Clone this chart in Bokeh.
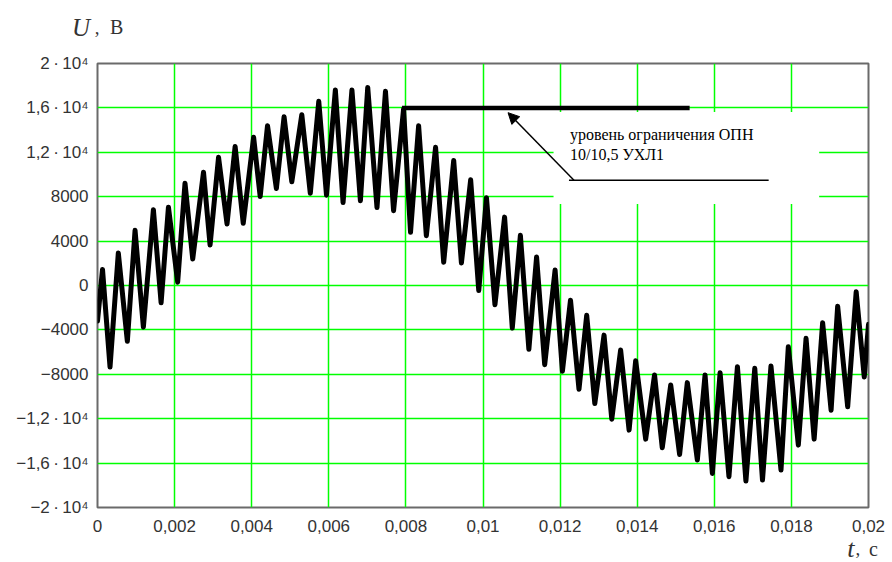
from bokeh.plotting import figure
from bokeh.models import Range1d, FixedTicker, Label, Arrow, NormalHead
from bokeh.embed import file_html
from bokeh.resources import INLINE

# Voltage on the bus: alternating local extremes of the 50 Hz wave with HF ripple
t_s = [0.0, 0.00013, 0.000325, 0.00054, 0.000774, 0.000974, 0.00119, 0.00145, 0.00165,
       0.00184, 0.00208, 0.00227, 0.00247, 0.00275, 0.00292, 0.00314, 0.00336, 0.00357,
       0.00378, 0.00405, 0.00422, 0.00441, 0.00464, 0.00484, 0.00504, 0.0053, 0.00552,
       0.00574, 0.00594, 0.00617, 0.00637, 0.0066, 0.00682, 0.00701, 0.00725, 0.00747,
       0.00768, 0.00794, 0.00812, 0.00833, 0.00853, 0.00877, 0.00898, 0.00924, 0.00944,
       0.00968, 0.00989, 0.01009, 0.01031, 0.01056, 0.01076, 0.01097, 0.01119, 0.01139,
       0.0116, 0.01187, 0.01206, 0.01227, 0.01249, 0.01269, 0.0129, 0.01314, 0.01334,
       0.01357, 0.01379, 0.01396, 0.01422, 0.01445, 0.01465, 0.01487, 0.0151, 0.0153,
       0.01556, 0.01576, 0.01595, 0.01615, 0.01638, 0.0166, 0.01682, 0.01705, 0.01725,
       0.01747, 0.01773, 0.01792, 0.01818, 0.01838, 0.01859, 0.01881, 0.01903, 0.0192,
       0.01946, 0.01968, 0.01989, 0.02]
u_v = [-3200, 1440, -7340, 2930, -5030, 4970, -3750, 6830, -1560,
       7060, 300, 9220, 2390, 10210, 3650, 11550, 5540, 12520,
       5600, 13350, 8020, 14400, 8740, 15210, 9340, 15390, 8320,
       16590, 8140, 17610, 7480, 17610, 7640, 17840, 7030, 17490,
       6740, 15900, 4790, 14400, 4490, 12450, 2090, 11260, 2030,
       9520, -450, 7910, -1740, 6160, -3840, 4520, -5750, 2570,
       -7130, 1400, -7730, -1320, -9340, -2670, -10640, -4470, -12040,
       -5810, -13030, -6770, -13840, -8060, -14620, -8960, -15220, -8750,
       -15720, -8060, -16930, -7850, -17220, -7310, -17610, -7460, -17520,
       -7250, -16620, -5510, -14380, -4760, -13840, -3360, -11230, -1860,
       -10930, -570, -8240, -3500]

# Surge arrester protection level
u_limit = 16000
t_limit = [0.0079, 0.01536]

x_ticks = [0.0, 0.002, 0.004, 0.006, 0.008, 0.01, 0.012, 0.014, 0.016, 0.018, 0.02]
x_tick_labels = ["0", "0,002", "0,004", "0,006", "0,008", "0,01", "0,012", "0,014",
                 "0,016", "0,018", "0,02"]
y_ticks = [-20000, -16000, -12000, -8000, -4000, 0, 4000, 8000, 12000, 16000, 20000]
y_tick_labels = ["\u22122\u2009\u00b7\u200910\u2074", "\u22121,6\u2009\u00b7\u200910\u2074",
                 "\u22121,2\u2009\u00b7\u200910\u2074",
                 "\u22128000", "\u22124000", "0", "4000", "8000",
                 "1,2\u2009\u00b7\u200910\u2074", "1,6\u2009\u00b7\u200910\u2074",
                 "2\u2009\u00b7\u200910\u2074"]

TICK_FONT = "Liberation Sans"
SERIF = "Liberation Serif"
INK = "#333333"

p = figure(width=892, height=562, output_backend="svg", toolbar_location=None,
           title=None,
           x_range=Range1d(0, 0.02), y_range=Range1d(-20000, 20000),
           min_border_left=97, min_border_right=24, min_border_top=63,
           min_border_bottom=55)
p.background_fill_color = "white"
p.border_fill_color = "white"
p.outline_line_color = "#6a6a6a"
p.outline_line_width = 2

for ax, ticks, labels in ((p.xaxis[0], x_ticks, x_tick_labels),
                          (p.yaxis[0], y_ticks, y_tick_labels)):
    ax.ticker = FixedTicker(ticks=ticks)
    ax.major_label_overrides = dict(zip(ticks, labels))
    ax.axis_line_color = None
    ax.major_tick_line_color = None
    ax.minor_tick_line_color = None
    ax.major_tick_out = 0
    ax.major_tick_in = 0
    ax.major_label_text_font = TICK_FONT
    ax.major_label_text_font_size = "17px"
    ax.major_label_text_color = INK
p.xaxis.major_label_standoff = 12
p.yaxis.major_label_standoff = 9

for g in (p.xgrid[0], p.ygrid[0]):
    g.grid_line_color = "#00ff00"
    g.grid_line_width = 1.5

# White panel under the annotation text
p.quad(left=0.01183, right=0.01872, bottom=7340, top=15630,
       fill_color="white", line_color=None)

# Waveform
p.line(t_s, u_v, line_color="black", line_width=5, line_join="round", line_cap="round")

# Protection level line and its callout
p.line(t_limit, [u_limit, u_limit], line_color="black", line_width=4.5)
p.line([0.01223, 0.01741], [9480, 9480], line_color="black", line_width=1.5)
p.add_layout(Arrow(end=NormalHead(size=11, fill_color="black", line_color="black"),
                   x_start=0.01236, y_start=9480, x_end=0.01065, y_end=15570,
                   line_color="black", line_width=1.5))
for txt, yy in (("уровень ограничения ОПН", 13560), ("10/10,5 УХЛ1", 11760)):
    p.add_layout(Label(x=0.012255, y=yy, text=txt, text_font=SERIF,
                       text_font_size="16px", text_color="black",
                       text_baseline="alphabetic"))

# Axis titles, placed in the side panels so they sit outside the data frame
def add_text(x, y, text, size, side, style="normal"):
    p.add_layout(Label(x=x, y=y, text=text, text_font=SERIF, text_font_size=size,
                       text_font_style=style, text_color=INK,
                       text_baseline="alphabetic"), side)

add_text(-0.00066, 23250, "U", "25px", "above", "italic")
add_text(-0.00007, 23250, ",", "19px", "left")
add_text(0.000325, 23250, "В", "20px", "above")
add_text(0.01945, -23700, "t", "26px", "right", "italic")
add_text(0.01966, -23700, ",", "19px", "right")
add_text(0.02001, -23700, "с", "20px", "below")

open("out.html", "w").write(file_html(p, INLINE))
